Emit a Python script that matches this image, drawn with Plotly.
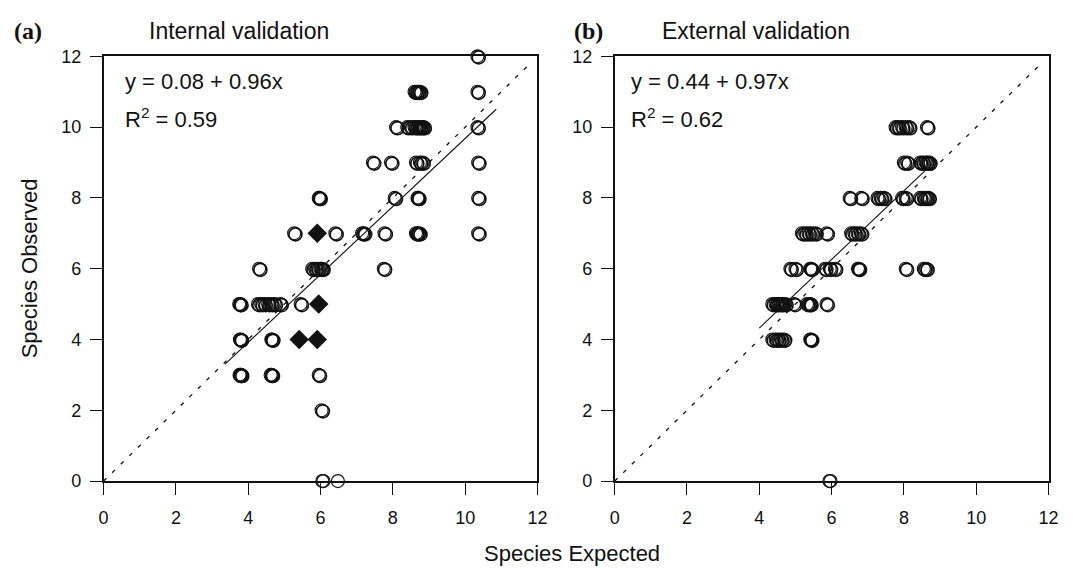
import plotly.graph_objects as go

# ---------------- data ----------------
# (a) Internal validation: open circles, grouped by observed value
int_rows_observed = [12, 11, 10, 9, 8, 7, 6, 5, 4, 3, 2, 0]
int_rows_expected = [
    [10.34],
    [8.60, 8.65, 8.70, 8.75, 10.34],
    [8.09, 8.40, 8.50, 8.60, 8.65, 8.70, 8.75, 8.80, 8.85, 10.34],
    [7.45, 7.95, 8.64, 8.75, 8.82, 10.36],
    [5.95, 5.97, 8.05, 8.68, 8.70, 10.36],
    [5.27, 6.41, 7.15, 7.20, 7.77, 8.64, 8.68, 8.73, 10.36],
    [4.30, 5.77, 5.85, 5.92, 6.00, 6.05, 7.75],
    [3.75, 3.78, 4.27, 4.36, 4.45, 4.55, 4.64, 4.73, 4.89, 5.45],
    [3.77, 3.79, 4.64, 4.66],
    [3.76, 3.78, 3.80, 4.62, 4.65, 5.95],
    [6.03],
    [6.05, 6.08, 6.48],
]
# (a) filled diamonds
int_diamond_expected = [5.91, 5.95, 5.41, 5.91]
int_diamond_observed = [7, 5, 4, 4]
int_intercept, int_slope = 0.08, 0.96
int_fit_range = [3.36, 10.86]
int_r2 = 0.59

# (b) External validation: open circles, grouped by observed value
ext_rows_observed = [10, 9, 8, 7, 6, 5, 4, 0]
ext_rows_expected = [
    [7.77, 7.85, 7.95, 8.05, 8.14, 8.64],
    [8.00, 8.09, 8.45, 8.52, 8.60, 8.65, 8.70],
    [6.50, 6.82, 7.27, 7.36, 7.45, 7.95, 8.05, 8.45, 8.55, 8.62, 8.68],
    [5.18, 5.27, 5.36, 5.45, 5.55, 5.86, 6.54, 6.63, 6.72, 6.81],
    [4.86, 5.00, 5.41, 5.43, 5.82, 5.95, 6.09, 6.73, 6.75, 8.05, 8.55, 8.62],
    [4.36, 4.45, 4.50, 4.55, 4.60, 4.65, 4.72, 4.96, 5.32, 5.38, 5.41, 5.86],
    [4.36, 4.45, 4.52, 4.60, 4.68, 5.41, 5.43],
    [5.94, 5.97],
]
ext_intercept, ext_slope = 0.44, 0.97
ext_fit_range = [4.00, 8.77]
ext_r2 = 0.62

axis_range = [0, 12]
identity_range = [0, 11.85]
tick_vals = [0, 2, 4, 6, 8, 10, 12]
panel_titles = ["Internal validation", "External validation"]
panel_letters = ["(a)", "(b)"]
x_title = "Species Expected"
y_title = "Species Observed"

# ---------------- figure ----------------
W, H = 1073, 577
INK = "#111111"
SANS = "Liberation Sans, Arial, sans-serif"
SERIF = "Liberation Serif, Times New Roman, serif"


def px_x(p):
    return p / W


def px_y(p):
    return 1 - p / H


def flatten(rows_obs, rows_exp):
    xs, ys = [], []
    for yv, row in zip(rows_obs, rows_exp):
        for xv in row:
            xs.append(xv)
            ys.append(yv)
    return xs, ys


fig = go.Figure()

panels = [
    dict(rows_obs=int_rows_observed, rows_exp=int_rows_expected,
         a=int_intercept, b=int_slope, rng=int_fit_range, r2=int_r2,
         xa="x", ya="y", diamonds=True),
    dict(rows_obs=ext_rows_observed, rows_exp=ext_rows_expected,
         a=ext_intercept, b=ext_slope, rng=ext_fit_range, r2=ext_r2,
         xa="x2", ya="y2", diamonds=False),
]

shadow_dx, shadow_dy = 0.035, -0.03

for p in panels:
    xs, ys = flatten(p["rows_obs"], p["rows_exp"])
    # 1:1 reference line
    fig.add_trace(go.Scatter(x=identity_range, y=identity_range, mode="lines",
                             line=dict(color=INK, width=1.3, dash="4px,8px"),
                             xaxis=p["xa"], yaxis=p["ya"], showlegend=False,
                             hoverinfo="skip"))
    # fitted regression line
    fit_y = [p["a"] + p["b"] * v for v in p["rng"]]
    fig.add_trace(go.Scatter(x=p["rng"], y=fit_y, mode="lines",
                             line=dict(color=INK, width=1.1),
                             xaxis=p["xa"], yaxis=p["ya"], showlegend=False,
                             hoverinfo="skip"))
    # shadow outline of circles
    fig.add_trace(go.Scatter(x=[v + shadow_dx for v in xs],
                             y=[v + shadow_dy for v in ys], mode="markers",
                             marker=dict(symbol="circle-open", size=13,
                                         color=INK, line=dict(width=1.7)),
                             xaxis=p["xa"], yaxis=p["ya"], showlegend=False,
                             cliponaxis=False, hoverinfo="skip"))
    # open circles
    fig.add_trace(go.Scatter(x=xs, y=ys, mode="markers",
                             marker=dict(symbol="circle-open", size=13,
                                         color=INK, line=dict(width=1.1)),
                             xaxis=p["xa"], yaxis=p["ya"], showlegend=False,
                             cliponaxis=False))
    if p["diamonds"]:
        fig.add_trace(go.Scatter(x=int_diamond_expected, y=int_diamond_observed,
                                 mode="markers",
                                 marker=dict(symbol="diamond", size=15,
                                             color=INK, line=dict(width=0)),
                                 xaxis=p["xa"], yaxis=p["ya"], showlegend=False,
                                 cliponaxis=False))

axis_common = dict(range=axis_range, tickvals=tick_vals, ticks="outside",
                   ticklen=12, tickwidth=1.2, tickcolor=INK,
                   showline=True, linewidth=1.5, linecolor=INK, mirror=True,
                   showgrid=False, zeroline=False,
                   tickfont=dict(family=SANS, size=18, color=INK),
                   fixedrange=True)

ydom = [px_y(488), px_y(48)]
fig.update_layout(
    width=W, height=H,
    margin=dict(l=0, r=0, t=0, b=0),
    paper_bgcolor="white", plot_bgcolor="white",
    showlegend=False,
    xaxis=dict(domain=[px_x(100), px_x(540)], anchor="y",
               ticklabelstandoff=8, **axis_common),
    yaxis=dict(domain=ydom, anchor="x", ticklabelstandoff=5, **axis_common),
    xaxis2=dict(domain=[px_x(618.3), px_x(1058.3)], anchor="y2",
                ticklabelstandoff=8, **axis_common),
    yaxis2=dict(domain=ydom, anchor="x2", ticklabelstandoff=5, **axis_common),
)

ann = []
# panel letters and titles
ann.append(dict(text="<b>" + panel_letters[0] + "</b>", x=px_x(23), y=px_y(22),
                font=dict(family=SERIF, size=24, color=INK)))
ann.append(dict(text="<b>" + panel_letters[1] + "</b>", x=px_x(592), y=px_y(22),
                font=dict(family=SERIF, size=24, color=INK)))
ann.append(dict(text=panel_titles[0], x=px_x(237), y=px_y(22),
                font=dict(family=SANS, size=23, color=INK)))
ann.append(dict(text=panel_titles[1], x=px_x(762), y=px_y(22),
                font=dict(family=SANS, size=23, color=INK)))
# equations
for p, x0 in zip(panels, [120, 633]):
    ann.append(dict(text="y = %.2f + %.2fx" % (p["a"], p["b"]),
                    x=px_x(x0), y=px_y(74), xanchor="left",
                    font=dict(family=SANS, size=22, color=INK)))
    ann.append(dict(text="R<sup>2</sup> = %.2f" % p["r2"],
                    x=px_x(x0), y=px_y(112), xanchor="left",
                    font=dict(family=SANS, size=22, color=INK)))
# axis titles
ann.append(dict(text=x_title, x=px_x(575), y=px_y(563),
                font=dict(family=SANS, size=22, color=INK)))
ann.append(dict(text=y_title, x=px_x(25), y=px_y(268), textangle=-90,
                font=dict(family=SANS, size=22, color=INK)))

for a in ann:
    a.setdefault("xanchor", "center")
    a.setdefault("yanchor", "middle")
    a.update(xref="paper", yref="paper", showarrow=False)
fig.update_layout(annotations=ann)

fig.write_html("out.html")
